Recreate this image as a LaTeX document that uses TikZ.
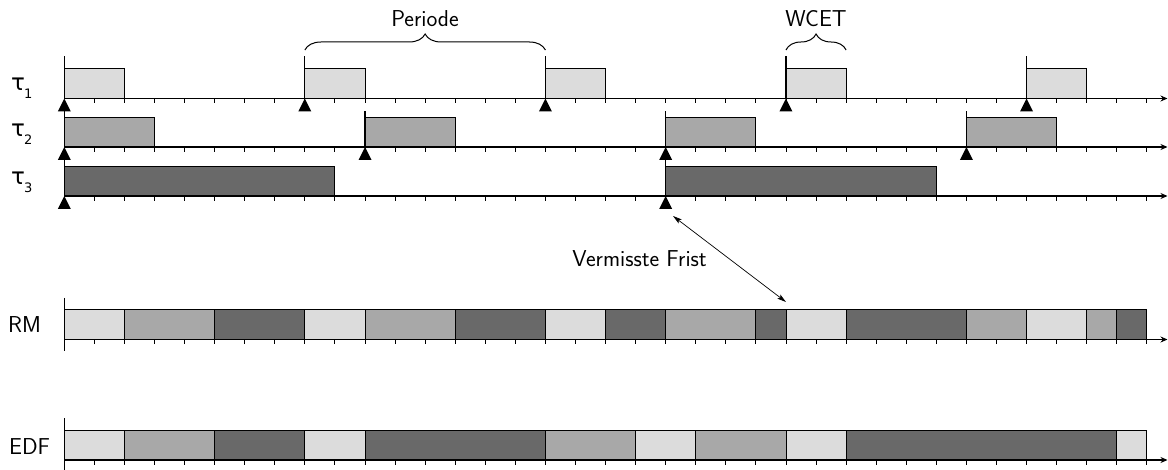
\documentclass[tikz,border=0pt]{standalone}
\usepackage{fontspec}
\newfontfamily\greekfont{DejaVu Sans}
\usetikzlibrary{decorations.pathreplacing,arrows.meta}

\definecolor{jobA}{RGB}{220,220,220}
\definecolor{jobB}{RGB}{168,168,168}
\definecolor{jobC}{RGB}{105,105,105}

% origin of the time axis and width of one time unit
\def\ox{64.3}
\def\u{30.07}

% time axis at height #1 with 36 unit ticks
\newcommand{\timeaxis}[1]{%
  \draw[axisline] (\ox,#1) -- (1167.5,#1);
  \foreach \k in {1,...,36} \draw[tickmark] (\ox+\k*\u,#1) -- ++(0,5);
}
% job from time #1 to #2 on the axis at height #3, coloured #4
\newcommand{\job}[4]{%
  \filldraw[jobbox,fill=#4] ({\ox+(#1)*\u},#3) rectangle ({\ox+(#2)*\u},#3-30);
}
% release at time #1 on the axis at height #2, marker line of length #3
\newcommand{\release}[3]{%
  \draw[relline] ({\ox+(#1)*\u},#2) -- ++(0,-#3);
  \fill ({\ox+(#1)*\u},#2) -- ++(-6.5,13) -- ++(13,0) -- cycle;
}

\begin{document}
\begin{tikzpicture}[x=1pt,y=-1pt,
  axisline/.style={line width=1.1pt,-{Stealth[length=7pt,width=6pt]}},
  tickmark/.style={line width=0.9pt},
  jobbox/.style={draw=black,line width=0.9pt},
  relline/.style={line width=1.1pt},
  lbl/.style={font=\sffamily\fontsize{23}{25}\selectfont,inner sep=0pt},
  tasklbl/.style={font=\greekfont\fontsize{23}{25}\selectfont,inner sep=0pt,anchor=base west},
  bracedeco/.style={decorate,decoration={brace,amplitude=16pt},line width=1pt},
]
\useasboundingbox (0,0) rectangle (1168,470);

% task tau_1: period 8, WCET 2
\foreach \s in {0,8,16,24,32} {\job{\s}{\s+2}{98.5}{jobA}}
\timeaxis{98.5}
\foreach \s in {0,8,16,24,32} {\release{\s}{98.5}{42}}

% task tau_2: period 10, WCET 3
\foreach \s in {0,10,20,30} {\job{\s}{\s+3}{147}{jobB}}
\timeaxis{147}
\foreach \s in {0,10,20,30} {\release{\s}{147}{36}}

% task tau_3: period 20, WCET 9
\foreach \s in {0,20} {\job{\s}{\s+9}{196}{jobC}}
\timeaxis{196}
\foreach \s in {0,20} {\release{\s}{196}{36}}

% rate monotonic schedule
\foreach \a/\b/\c in {0/2/jobA,2/5/jobB,5/8/jobC,8/10/jobA,10/13/jobB,13/16/jobC,
  16/18/jobA,18/20/jobC,20/23/jobB,23/24/jobC,24/26/jobA,26/30/jobC,30/32/jobB,
  32/34/jobA,34/35/jobB,35/36/jobC} {\job{\a}{\b}{339.5}{\c}}
\timeaxis{339.5}
\draw[relline] (\ox,298) -- (\ox,351);

% earliest deadline first schedule
\foreach \a/\b/\c in {0/2/jobA,2/5/jobB,5/8/jobC,8/10/jobA,10/16/jobC,16/19/jobB,
  19/21/jobA,21/24/jobB,24/26/jobA,26/35/jobC,35/36/jobA} {\job{\a}{\b}{460}{\c}}
\timeaxis{460}
\draw[relline] (\ox,418) -- (\ox,470);

% row labels
\node[tasklbl] (t1) at (11,91) {τ\kern-1pt\raisebox{-8pt}{\fontsize{13}{13}\selectfont 1}};
\node[tasklbl] (t2) at (11,137) {τ\kern-1pt\raisebox{-8pt}{\fontsize{13}{13}\selectfont 2}};
\node[tasklbl] (t3) at (11,185) {τ\kern-1pt\raisebox{-8pt}{\fontsize{13}{13}\selectfont 3}};
\node[lbl,anchor=base west] (rm) at (8,332.7) {RM};
\node[lbl,anchor=base west] (edf) at (9,454) {EDF};

% period and execution time braces
\coordinate (pA) at ({\ox+8*\u},50);
\coordinate (pB) at ({\ox+16*\u},50);
\draw[bracedeco] (pA) -- (pB);
\node[lbl,anchor=base] (per) at (425,26.7) {Periode};
\coordinate (wA) at ({\ox+24*\u},50);
\coordinate (wB) at ({\ox+26*\u},50);
\draw[bracedeco] (wA) -- (wB);
\node[lbl,anchor=base] (wcet) at (816,26.7) {WCET};

% missed deadline
\node[lbl,anchor=base] (miss) at (639.5,266.7) {Vermisste Frist};
\coordinate (missFrom) at (673,216);
\coordinate (missTo) at (786,302);
\draw[line width=0.7pt,{Stealth[length=9pt,width=5pt,inset=2pt]}-{Stealth[length=9pt,width=5pt,inset=2pt]}] (missFrom) -- (missTo);
\end{tikzpicture}
\end{document}
